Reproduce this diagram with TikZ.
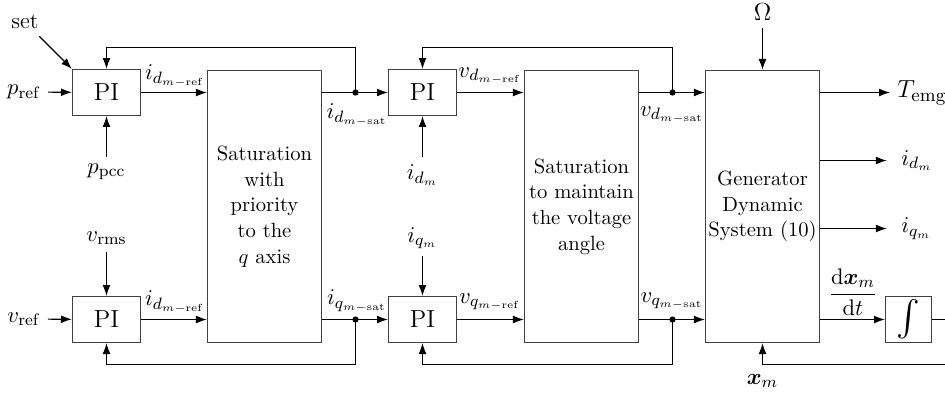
\documentclass[tikz,border=0pt]{standalone}
\usepackage{amsmath}
\usetikzlibrary{arrows.meta}
\begin{document}
\begin{tikzpicture}[x=0.4857pt,y=-0.4857pt,
  blk/.style={draw=black!75, line width=0.6pt, align=center, inner sep=0pt, font=\fontsize{10}{12.5}\selectfont},
  pibox/.style={blk, minimum width=33pt, minimum height=22.3pt, font=\fontsize{12}{14}\selectfont},
  bigbox/.style={blk, minimum width=55.4pt, minimum height=132.1pt},
  arr/.style={-{Latex[length=5.3pt,width=3.8pt]}, line width=0.55pt},
  ln/.style={line width=0.55pt},
  lbl/.style={font=\fontsize{11}{13}\selectfont},
  biglbl/.style={font=\fontsize{12.5}{14}\selectfont},
  dot/.style={fill, circle, inner sep=0pt, minimum size=3pt}]
\useasboundingbox (0,0) rectangle (945,400);

% blocks
\node[pibox] (pi1) at (106.5,92.5) {PI};
\node[pibox] (pi2) at (106.5,319.5) {PI};
\node[pibox] (pi3) at (422.5,92.5) {PI};
\node[pibox] (pi4) at (422.5,319.5) {PI};
\node[bigbox] (sat1) at (264.5,206.5) {Saturation\\with\\priority\\to the\\$q$ axis};
\node[bigbox] (sat2) at (581.5,206.5) {Saturation\\to maintain\\the voltage\\angle};
\node[bigbox] (gen) at (762.5,206.5) {Generator\\Dynamic\\System (10)};
\node[blk, minimum width=22.3pt, minimum height=22.3pt] (integ) at (908.5,319.5) {\LARGE$\int$};

% junctions
\node[dot] (j1) at (355.5,92.5) {};
\node[dot] (j2) at (355.5,319.5) {};
\node[dot] (j3) at (672.5,92.5) {};
\node[dot] (j4) at (672.5,319.5) {};
\coordinate (t1) at (355.5,47.5);
\coordinate (b1) at (355.5,364.5);
\coordinate (t2) at (672.5,47.5);
\coordinate (b2) at (672.5,364.5);
\coordinate (r1) at (960,319.5);
\coordinate (r2) at (960,364.5);

% input labels
\node[lbl] (set) at (25,22) {set};
\node[lbl] (pref) at (24,92) {$p_{\mathrm{ref}}$};
\node[lbl] (ppcc) at (106.5,172) {$p_{\mathrm{pcc}}$};
\node[lbl] (vrms) at (106.5,238) {$v_{\mathrm{rms}}$};
\node[lbl] (vref) at (24,319) {$v_{\mathrm{ref}}$};
\node[lbl] (idm) at (422.5,175) {$i_{d_m}$};
\node[lbl] (iqm) at (422.5,238) {$i_{q_m}$};
\node[biglbl] (om) at (762.5,12) {$\Omega$};
\node[biglbl, anchor=west] (temg) at (890,92.5) {$T_{\mathrm{emg}}$};
\node[lbl, anchor=west] (idmo) at (894,160.5) {$i_{d_m}$};
\node[lbl, anchor=west] (iqmo) at (894,228.5) {$i_{q_m}$};
\node[lbl] (xm) at (762.5,381) {$\boldsymbol{x}_m$};

% signal labels
\node[lbl] (l1) at (175,76) {$i_{d_{m-\mathrm{ref}}}$};
\node[lbl] (l2) at (175,302) {$i_{d_{m-\mathrm{ref}}}$};
\node[lbl] (l3) at (357,115) {$i_{d_{m-\mathrm{sat}}}$};
\node[lbl] (l4) at (357,301) {$i_{q_{m-\mathrm{sat}}}$};
\node[lbl] (l5) at (490,76) {$v_{d_{m-\mathrm{ref}}}$};
\node[lbl] (l6) at (490,302) {$v_{q_{m-\mathrm{ref}}}$};
\node[lbl] (l7) at (672,115) {$v_{d_{m-\mathrm{sat}}}$};
\node[lbl] (l8) at (672,301) {$v_{q_{m-\mathrm{sat}}}$};
\node[lbl] (l9) at (853,292) {$\dfrac{\mathrm{d}\boldsymbol{x}_m}{\mathrm{d}t}$};

% connectors
\draw[arr] (set) -- (pi1.north west);
\draw[arr] (pref) -- (pi1);
\draw[arr] (ppcc) -- (pi1);
\draw[arr] (vrms) -- (pi2);
\draw[arr] (vref) -- (pi2);
\draw[arr] (pi1) -- (pi1 -| sat1.west);
\draw[arr] (pi2) -- (pi2 -| sat1.west);
\draw[ln] (j1 -| sat1.east) -- (j1.center);
\draw[ln] (j2 -| sat1.east) -- (j2.center);
\draw[arr] (j1.center) -- (pi3);
\draw[arr] (j2.center) -- (pi4);
\draw[arr] (j1.center) -- (t1) -| (pi1);
\draw[arr] (j2.center) -- (b1) -| (pi2);
\draw[arr] (idm) -- (pi3);
\draw[arr] (iqm) -- (pi4);
\draw[arr] (pi3) -- (pi3 -| sat2.west);
\draw[arr] (pi4) -- (pi4 -| sat2.west);
\draw[ln] (j3 -| sat2.east) -- (j3.center);
\draw[ln] (j4 -| sat2.east) -- (j4.center);
\draw[arr] (j3.center) -- (j3 -| gen.west);
\draw[arr] (j4.center) -- (j4 -| gen.west);
\draw[arr] (j3.center) -- (t2) -| (pi3);
\draw[arr] (j4.center) -- (b2) -| (pi4);
\draw[arr] (om) -- (gen);
\draw[arr] (gen.east |- temg) -- (temg.west);
\draw[arr] (gen.east |- idmo) -- ([xshift=-3.5pt]idmo.west);
\draw[arr] (gen.east |- iqmo) -- ([xshift=-3.5pt]iqmo.west);
\draw[arr] (gen.east |- integ) -- (integ);
\draw[arr] (integ) -- (r1) -- (r2) -| (gen);
\end{tikzpicture}
\end{document}
